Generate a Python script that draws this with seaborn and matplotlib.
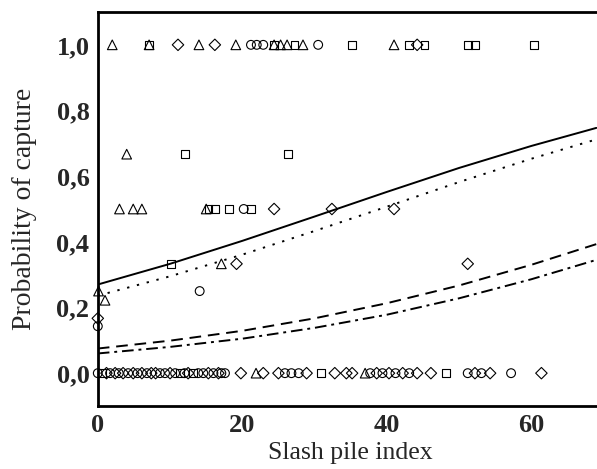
import matplotlib
matplotlib.use("Agg")
import matplotlib.pyplot as plt
import pandas as pd
import seaborn as sns

# ---- data ----
# open circles
circ_x = [21.2, 22.0, 22.9, 30.5, 14.1, 20.2, 0.0,
          0.0, 1.7, 2.9, 4.2, 5.5, 6.8, 8.6, 9.3, 10.7, 12.0, 13.9, 14.6, 16.0, 17.1, 17.6,
          25.9, 26.8, 27.8, 37.7, 39.4, 41.2, 43.1, 51.2, 53.1, 57.2]
circ_y = [1.0, 1.0, 1.0, 1.0, 0.25, 0.5, 0.143,
          0, 0, 0, 0, 0, 0, 0, 0, 0, 0, 0, 0, 0, 0, 0,
          0, 0, 0, 0, 0, 0, 0, 0, 0, 0]
# open squares
sq_x = [7.1, 24.4, 27.2, 35.2, 43.1, 45.2, 51.2, 52.2, 60.4,
        12.1, 26.3, 15.3, 16.2, 18.2, 21.2, 10.1,
        0.6, 11.4, 13.2, 30.9, 48.2]
sq_y = [1.0, 1.0, 1.0, 1.0, 1.0, 1.0, 1.0, 1.0, 1.0,
        0.667, 0.667, 0.5, 0.5, 0.5, 0.5, 0.333,
        0, 0, 0, 0, 0]
# open triangles
tri_x = [2.0, 7.1, 14.0, 19.1, 24.4, 25.3, 26.2, 28.4, 41.0,
         4.0, 3.0, 4.9, 6.1, 15.0, 17.1, 0.1, 1.0,
         21.9, 37.0]
tri_y = [1.0, 1.0, 1.0, 1.0, 1.0, 1.0, 1.0, 1.0, 1.0,
         0.667, 0.5, 0.5, 0.5, 0.5, 0.333, 0.25, 0.222,
         0, 0]
# open diamonds
dia_x = [11.1, 16.2, 44.2, 24.4, 32.4, 41.0, 51.2, 19.2, 0.0,
         1.2, 2.4, 3.5, 4.9, 6.1, 7.4, 8.0, 10.0, 12.5, 15.3, 16.7,
         19.8, 22.9, 25.0, 28.9, 32.8, 34.4, 35.2, 38.6, 40.3, 42.2, 44.2,
         46.1, 52.2, 54.3, 61.4]
dia_y = [1.0, 1.0, 1.0, 0.5, 0.5, 0.5, 0.333, 0.333, 0.167,
         0, 0, 0, 0, 0, 0, 0, 0, 0, 0, 0,
         0, 0, 0, 0, 0, 0, 0, 0, 0, 0, 0,
         0, 0, 0, 0]

# fitted curves, read at these x positions
curve_x = [0, 10, 20, 30, 40, 50, 60, 69]
solid_y = [0.270, 0.333, 0.403, 0.477, 0.552, 0.625, 0.692, 0.747]
dotted_y = [0.236, 0.295, 0.361, 0.433, 0.507, 0.582, 0.653, 0.712]
dashed_y = [0.075, 0.099, 0.129, 0.167, 0.213, 0.267, 0.330, 0.393]
dashdot_y = [0.060, 0.080, 0.105, 0.138, 0.178, 0.228, 0.286, 0.345]

x_ticks = [0, 20, 40, 60]
y_ticks = [0.0, 0.2, 0.4, 0.6, 0.8, 1.0]
y_ticklabels = ['0,0', '0,2', '0,4', '0,6', '0,8', '1,0']

sns.set_style("white")
plt.rcParams['font.family'] = ['Liberation Serif', 'DejaVu Serif']

fig = plt.figure(figsize=(5.97, 4.69), dpi=100)
ax = fig.add_axes([97.8 / 597, 63 / 469, 505.75 / 597, 394 / 469])

groups = [(circ_x, circ_y, 'o', 40), (sq_x, sq_y, 's', 30),
          (tri_x, tri_y, '^', 48), (dia_x, dia_y, 'D', 34)]
for gx, gy, mk, sz in groups:
    d = pd.DataFrame({'x': gx, 'y': gy})
    sns.scatterplot(data=d, x='x', y='y', marker=mk, s=sz, facecolors='none',
                    edgecolors='black', linewidth=0.8, ax=ax, zorder=3, clip_on=False)

cur = pd.DataFrame({'x': curve_x, 's': solid_y, 'd': dotted_y,
                    'da': dashed_y, 'dd': dashdot_y})
sns.lineplot(data=cur, x='x', y='s', color='black', lw=1.4, ax=ax)
sns.lineplot(data=cur, x='x', y='d', color='black', lw=1.4, ax=ax, linestyle=(0, (1.2, 4)))
sns.lineplot(data=cur, x='x', y='da', color='black', lw=1.4, ax=ax, linestyle=(0, (6, 3.5)))
sns.lineplot(data=cur, x='x', y='dd', color='black', lw=1.4, ax=ax, linestyle=(0, (6, 2.5, 1.5, 2.5)))

ax.set_xlim(0, 70)
ax.set_ylim(-0.1, 1.1)
ax.set_xticks(x_ticks)
ax.set_xticklabels([str(t) for t in x_ticks], fontsize=19, fontweight='bold')
ax.set_yticks(y_ticks)
ax.set_yticklabels(y_ticklabels, fontsize=19, fontweight='bold')
ax.tick_params(direction='in', length=6, width=1.5, pad=6)
ax.set_xlabel('Slash pile index', fontsize=18.5, labelpad=3)
ax.set_ylabel('Probability of capture', fontsize=20, labelpad=14)
for s in ax.spines.values():
    s.set_linewidth(2)
    s.set_color('black')

fig.savefig('out.png', dpi=100)
